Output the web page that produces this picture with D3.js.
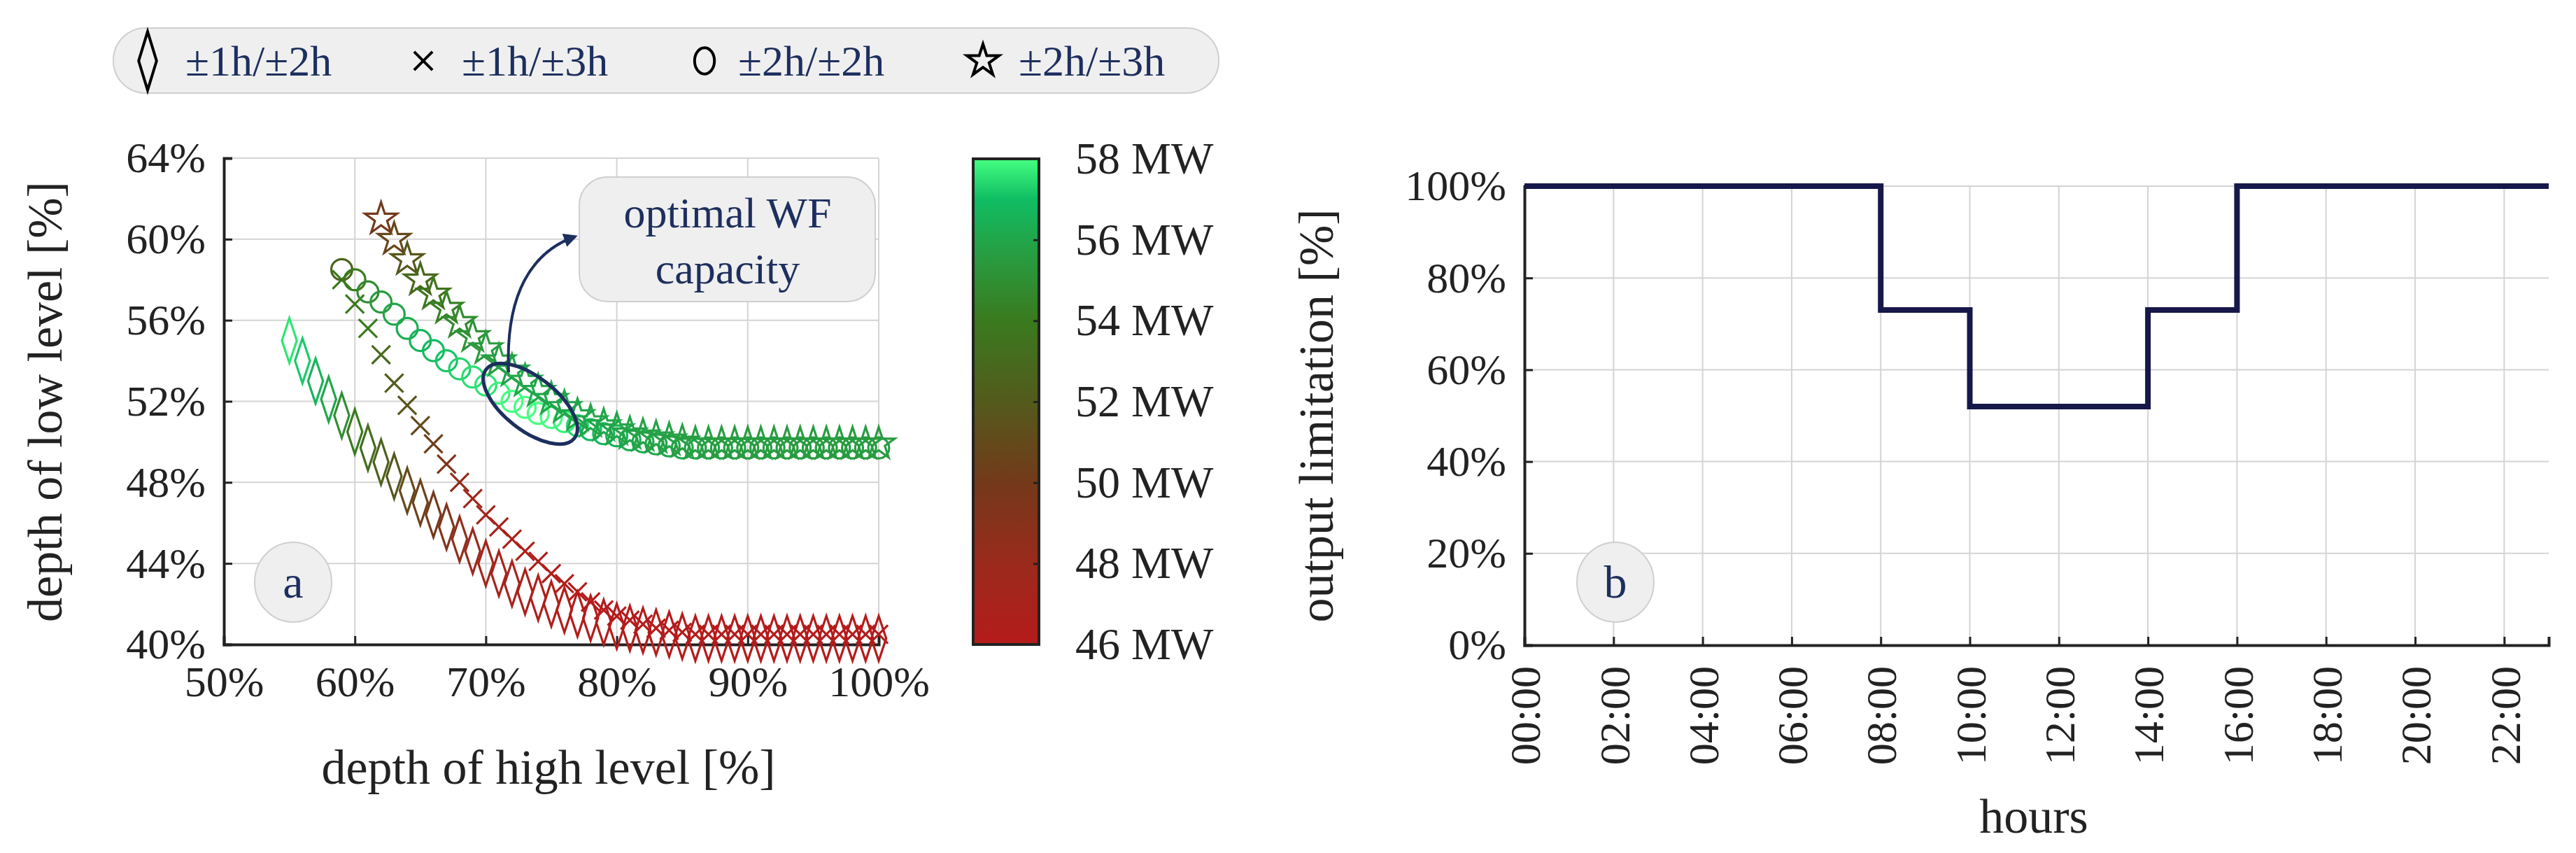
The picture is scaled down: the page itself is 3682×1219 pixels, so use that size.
<!DOCTYPE html>
<html><head><meta charset="utf-8">
<script src="https://cdn.jsdelivr.net/npm/d3@7"></script>
<style>body{margin:0;background:#fff}text{font-family:"Liberation Serif",serif}</style>
</head><body><svg id="c" width="3682" height="1219"></svg>
<script>
// series data: depth of high level [%], depth of low level [%], WF capacity [MW]
var diaX = [55,56,57,58,59,60,61,62,63,64,65,66,67,68,69,70,71,72,73,74,75,76,77,78,79,80,81,82,83,84,85,86,87,88,89,90,91,92,93,94,95,96,97,98,99,100];
var diaY = [55.0,54.0,53.0,52.1,51.3,50.5,49.7,49.0,48.3,47.6,47.0,46.4,45.8,45.2,44.6,44.0,43.5,43.0,42.6,42.3,42.0,41.7,41.5,41.3,41.1,40.9,40.8,40.7,40.6,40.5,40.4,40.3,40.3,40.3,40.3,40.3,40.3,40.3,40.3,40.3,40.3,40.3,40.3,40.3,40.3,40.3];
var diaMW = [57.6,57.2,56.6,56.0,55.0,54.0,53.2,52.5,51.8,51.0,50.5,50.0,49.3,48.6,48.0,47.5,47.2,47.0,46.8,46.6,46.5,46.4,46.3,46.2,46.1,46.0,46.0,46.0,46.0,46.0,46.0,46.0,46.0,46.0,46.0,46.0,46.0,46.0,46.0,46.0,46.0,46.0,46.0,46.0,46.0,46.0];

var crsX = [59,60,61,62,63,64,65,66,67,68,69,70,71,72,73,74,75,76,77,78,79,80,81,82,83,84,85,86,87,88,89,90,91,92,93,94,95,96,97,98,99,100];
var crsY = [58.0,56.8,55.6,54.3,52.9,51.8,50.8,49.9,48.9,48.0,47.2,46.4,45.8,45.2,44.6,44.1,43.5,43.0,42.6,42.1,41.7,41.4,41.2,41.0,40.8,40.7,40.6,40.5,40.5,40.5,40.5,40.5,40.5,40.5,40.5,40.5,40.5,40.5,40.5,40.5,40.5,40.5];
var crsMW = [54.0,54.0,54.0,53.0,52.2,51.6,51.0,50.3,49.4,48.5,47.8,47.2,46.9,46.7,46.5,46.4,46.3,46.2,46.1,46.0,46.0,46.0,46.0,46.0,46.0,46.0,46.0,46.0,46.0,46.0,46.0,46.0,46.0,46.0,46.0,46.0,46.0,46.0,46.0,46.0,46.0,46.0];

var cirX = [59,60,61,62,63,64,65,66,67,68,69,70,71,72,73,74,75,76,77,78,79,80,81,82,83,84,85,86,87,88,89,90,91,92,93,94,95,96,97,98,99,100];
var cirY = [58.5,58.0,57.4,56.9,56.3,55.6,55.0,54.5,54.0,53.6,53.2,52.8,52.4,52.0,51.7,51.4,51.2,51.0,50.8,50.6,50.4,50.3,50.1,50.0,49.9,49.8,49.7,49.7,49.7,49.7,49.7,49.7,49.7,49.7,49.7,49.7,49.7,49.7,49.7,49.7,49.7,49.7];
var cirMW = [52.6,54.0,54.8,55.5,56.0,56.3,56.6,56.9,57.1,57.3,57.5,57.6,57.8,58.0,58.0,58.0,58.0,57.8,57.4,57.0,56.7,56.5,56.3,56.2,56.1,56.0,56.0,55.9,55.9,55.8,55.8,55.7,55.7,55.7,55.6,55.6,55.6,55.6,55.6,55.6,55.6,55.6];

var strX = [62,63,64,65,66,67,68,69,70,71,72,73,74,75,76,77,78,79,80,81,82,83,84,85,86,87,88,89,90,91,92,93,94,95,96,97,98,99,100];
var strY = [61.0,60.0,59.0,58.0,57.3,56.6,55.9,55.2,54.6,54.0,53.5,53.0,52.5,52.1,51.7,51.3,51.0,50.8,50.6,50.4,50.3,50.2,50.1,50.0,49.9,49.9,49.9,49.9,49.9,49.9,49.9,49.9,49.9,49.9,49.9,49.9,49.9,49.9,49.9];
var strMW = [50.0,50.8,51.8,52.8,53.6,54.3,54.8,55.2,55.5,55.7,55.9,56.0,56.0,56.0,56.0,56.0,56.0,56.0,56.0,55.9,55.9,55.8,55.8,55.7,55.7,55.7,55.6,55.6,55.6,55.6,55.6,55.6,55.6,55.6,55.6,55.6,55.6,55.6,55.6];

var xTicksA = [50,60,70,80,90,100];
var yTicksA = [40,44,48,52,56,60,64];
var mwTicks = [46,48,50,52,54,56,58];
var legendLabels = ["±1h/±2h","±1h/±3h","±2h/±2h","±2h/±3h"];

// panel b
var stepHours = [0,8,10,14,16,23];
var stepLimit = [100,73,52,73,100,100];
var hourTicks = [0,2,4,6,8,10,12,14,16,18,20,22];
var limTicks = [0,20,40,60,80,100];

var svg = d3.select("#c");
var navy = "#1d2f5e", ink = "#222";

var mwStops = [46,48,50,52,54,55.5,57,58];
var mwCols = ["#b51b1b","#9a2a1c","#74391a","#535a1c","#3a7a1e","#2a9a3e","#10bd63","#44ff80"];
var color = d3.scaleLinear().domain(mwStops).range(mwCols);

// ---------- panel a ----------
var x = d3.scaleLinear().domain([50,100]).range([320,1256]);
var y = d3.scaleLinear().domain([40,64]).range([921,226]);

var ga = svg.append("g");
ga.selectAll(".gx").data(xTicksA).enter().append("line")
  .attr("x1", d => x(d)).attr("x2", d => x(d)).attr("y1", y(40)).attr("y2", y(64))
  .attr("stroke", "#d4d4d4").attr("stroke-width", 2);
ga.selectAll(".gy").data(yTicksA).enter().append("line")
  .attr("y1", d => y(d)).attr("y2", d => y(d)).attr("x1", x(50)).attr("x2", x(100))
  .attr("stroke", "#d4d4d4").attr("stroke-width", 2);

var axA = ga.append("g").attr("transform", "translate(0," + y(40) + ")")
  .call(d3.axisBottom(x).tickValues(xTicksA).tickFormat(d => d + "%").tickSize(-12).tickPadding(30));
var ayA = ga.append("g").attr("transform", "translate(" + x(50) + ",0)")
  .call(d3.axisLeft(y).tickValues(yTicksA).tickFormat(d => d + "%").tickSize(-12).tickPadding(26));
[axA, ayA].forEach(function (a) {
  a.selectAll("path").attr("stroke", ink).attr("stroke-width", 4);
  a.selectAll("line").attr("stroke", ink).attr("stroke-width", 3);
  a.selectAll("text").attr("font-size", 62).attr("fill", ink);
});
axA.selectAll("text").attr("dy", "0.71em");

ga.append("text").attr("x", 784).attr("y", 1120).attr("text-anchor", "middle")
  .attr("font-size", 70).attr("fill", ink).text("depth of high level [%]");
ga.append("text").attr("transform", "translate(88,574) rotate(-90)").attr("text-anchor", "middle")
  .attr("font-size", 70).attr("fill", ink).text("depth of low level [%]");

function pts(xs, ys, ms) { return xs.map((v, i) => ({x: v, y: ys[i], m: ms[i]})); }
var sym = {
  dia: d3.symbol().type(d3.symbolDiamond).size(700),
  crs: d3.symbol().type(d3.symbolTimes).size(450),
  cir: d3.symbol().type(d3.symbolCircle).size(700),
  str: d3.symbol().type(d3.symbolStar).size(650)
};
function drawSeries(data, key, sx, sy) {
  ga.selectAll(".s" + key).data(data).enter().append("path")
    .attr("d", sym[key])
    .attr("transform", d => "translate(" + x(d.x) + "," + y(d.y) + ") scale(" + sx + "," + sy + ")")
    .attr("fill", "none").attr("stroke", d => color(d.m)).attr("stroke-width", 3.2)
    .attr("vector-effect", "non-scaling-stroke");
}
drawSeries(pts(diaX, diaY, diaMW), "dia", 0.75, 1.3);
drawSeries(pts(crsX, crsY, crsMW), "crs", 1, 1);
drawSeries(pts(cirX, cirY, cirMW), "cir", 1, 1);
drawSeries(pts(strX, strY, strMW), "str", 1, 1);

// annotation
ga.append("ellipse").attr("cx", 758).attr("cy", 577).attr("rx", 80).attr("ry", 38)
  .attr("transform", "rotate(38,758,577)").attr("fill", "none").attr("stroke", navy).attr("stroke-width", 5);
svg.append("defs").append("marker").attr("id", "ah").attr("viewBox", "0 0 10 10")
  .attr("refX", 8).attr("refY", 5).attr("markerWidth", 5).attr("markerHeight", 5).attr("orient", "auto")
  .append("path").attr("d", "M0,0L10,5L0,10z").attr("fill", navy);
ga.append("path").attr("d", "M727,532 C722,420 760,360 822,338").attr("fill", "none")
  .attr("stroke", navy).attr("stroke-width", 4).attr("marker-end", "url(#ah)");
ga.append("rect").attr("x", 828).attr("y", 253).attr("width", 423).attr("height", 178).attr("rx", 40)
  .attr("fill", "#efefef").attr("stroke", "#cfcfcf").attr("stroke-width", 2);
ga.append("text").attr("x", 1040).attr("y", 325).attr("text-anchor", "middle").attr("font-size", 62)
  .attr("fill", navy).text("optimal WF");
ga.append("text").attr("x", 1040).attr("y", 405).attr("text-anchor", "middle").attr("font-size", 62)
  .attr("fill", navy).text("capacity");

function badge(cx, cy, t) {
  svg.append("ellipse").attr("cx", cx).attr("cy", cy).attr("rx", 55).attr("ry", 57)
    .attr("fill", "#efefef").attr("stroke", "#cfcfcf").attr("stroke-width", 2);
  svg.append("text").attr("x", cx).attr("y", cy + 22).attr("text-anchor", "middle")
    .attr("font-size", 66).attr("fill", navy).text(t);
}
badge(419, 832, "a");

// colour bar
var cb = d3.scaleLinear().domain([46,58]).range([921,227]);
var grad = svg.select("defs").append("linearGradient").attr("id", "cbg")
  .attr("x1", 0).attr("y1", 1).attr("x2", 0).attr("y2", 0);
grad.selectAll("stop").data(mwStops).enter().append("stop")
  .attr("offset", d => (d - 46) / 12).attr("stop-color", (d, i) => mwCols[i]);
svg.append("rect").attr("x", 1391).attr("y", 227).attr("width", 94).attr("height", 694)
  .attr("fill", "url(#cbg)").attr("stroke", ink).attr("stroke-width", 4);
var cbAx = svg.append("g").attr("transform", "translate(1485,0)")
  .call(d3.axisRight(cb).tickValues(mwTicks).tickFormat(d => d + " MW").tickSize(-8).tickPadding(52));
cbAx.select("path").remove();
cbAx.selectAll("line").attr("stroke", ink).attr("stroke-width", 3);
cbAx.selectAll("text").attr("font-size", 64).attr("fill", ink);

// legend
svg.append("rect").attr("x", 162).attr("y", 40).attr("width", 1580).attr("height", 93).attr("rx", 46)
  .attr("fill", "#efefef").attr("stroke", "#cfcfcf").attr("stroke-width", 2);
var legKeys = ["dia","crs","cir","str"];
var legSX = [211,605,1007,1405];
var legTX = [265,660,1055,1456];
legKeys.forEach(function (k, i) {
  var s = k === "dia" ? "scale(0.9,1.7)" : k === "cir" ? "scale(0.95,1.25)" : "scale(1,1)";
  svg.append("path").attr("d", sym[k]).attr("transform", "translate(" + legSX[i] + ",87) " + s)
    .attr("fill", "none").attr("stroke", "#000").attr("stroke-width", 4).attr("vector-effect", "non-scaling-stroke");
  svg.append("text").attr("x", legTX[i]).attr("y", 108).attr("font-size", 62).attr("fill", navy).text(legendLabels[i]);
});

// ---------- panel b ----------
var xb = d3.scaleLinear().domain([0,23]).range([2179,3643]);
var yb = d3.scaleLinear().domain([0,100]).range([922,266]);
var gb = svg.append("g");
gb.selectAll(".gx").data(hourTicks).enter().append("line")
  .attr("x1", d => xb(d)).attr("x2", d => xb(d)).attr("y1", yb(0)).attr("y2", yb(100))
  .attr("stroke", "#d4d4d4").attr("stroke-width", 2);
gb.selectAll(".gy").data(limTicks).enter().append("line")
  .attr("y1", d => yb(d)).attr("y2", d => yb(d)).attr("x1", xb(0)).attr("x2", xb(23))
  .attr("stroke", "#d4d4d4").attr("stroke-width", 2);
var axB = gb.append("g").attr("transform", "translate(0," + yb(0) + ")")
  .call(d3.axisBottom(xb).tickValues(hourTicks).tickFormat(d => (d < 10 ? "0" : "") + d + ":00").tickSize(-12));
axB.selectAll("text").attr("transform", "rotate(-90)").attr("text-anchor", "end")
  .attr("x", -30).attr("y", 0).attr("dy", "0.35em");
var ayB = gb.append("g").attr("transform", "translate(" + xb(0) + ",0)")
  .call(d3.axisLeft(yb).tickValues(limTicks).tickFormat(d => d + "%").tickSize(-12).tickPadding(26));
[axB, ayB].forEach(function (a) {
  a.selectAll("path").attr("stroke", ink).attr("stroke-width", 4);
  a.selectAll("line").attr("stroke", ink).attr("stroke-width", 3);
  a.selectAll("text").attr("font-size", 62).attr("fill", ink);
});
var stepLine = d3.line().x((d, i) => xb(stepHours[i])).y(d => yb(d)).curve(d3.curveStepAfter);
gb.append("path").attr("d", stepLine(stepLimit)).attr("fill", "none")
  .attr("stroke", "#16184a").attr("stroke-width", 8);
gb.append("text").attr("x", 2907).attr("y", 1190).attr("text-anchor", "middle")
  .attr("font-size", 70).attr("fill", ink).text("hours");
gb.append("text").attr("transform", "translate(1905,594) rotate(-90)").attr("text-anchor", "middle")
  .attr("font-size", 70).attr("fill", ink).text("output limitation [%]");
badge(2309, 832, "b");
</script></body></html>
